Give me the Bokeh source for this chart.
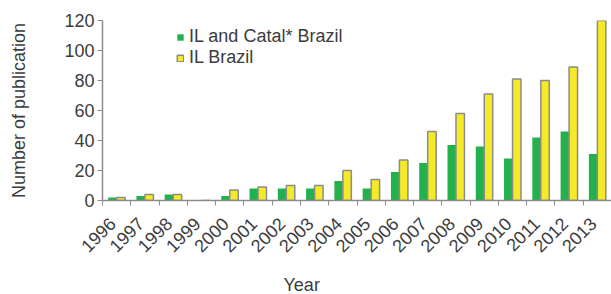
import math
from bokeh.plotting import figure
from bokeh.models import (ColumnDataSource, Range1d, LinearAxis, FixedTicker,
                          Legend, LegendItem, Title)
from bokeh.transform import dodge
from bokeh.embed import file_html
from bokeh.resources import INLINE

years = ["1996", "1997", "1998", "1999", "2000", "2001", "2002", "2003", "2004",
         "2005", "2006", "2007", "2008", "2009", "2010", "2011", "2012", "2013"]
il_catal = [2, 3, 4, 0, 3, 8, 8, 8, 13, 8, 19, 25, 37, 36, 28, 42, 46, 31]
il_brazil = [2, 4, 4, 0, 7, 9, 10, 10, 20, 14, 27, 46, 58, 71, 81, 80, 89, 120]
y_ticks = [0, 20, 40, 60, 80, 100, 120]

FONT = "Liberation Sans"
TXT = "#3c3c3c"
AX = "#8c8c8c"
GREEN = "#22b14c"
YELLOW = "#f5ea28"

n = len(years)
centers = [i + 0.5 for i in range(n)]
label_pos = [i + 0.35 for i in range(n)]
src = ColumnDataSource(dict(x=centers, green=il_catal, yellow=il_brazil))

p = figure(width=611, height=294, output_backend="svg", toolbar_location=None,
           x_range=Range1d(0, n), y_range=Range1d(0, 120),
           x_axis_type=None, y_axis_type=None,
           min_border_left=102, min_border_right=0, min_border_top=20,
           min_border_bottom=94)
p.outline_line_color = None
p.grid.visible = False

g = p.vbar(x=dodge("x", -0.15, range=p.x_range), top="green", width=0.3,
           source=src, fill_color=GREEN, line_color=None)
y = p.vbar(x=dodge("x", 0.15, range=p.x_range), top="yellow", width=0.3,
           source=src, fill_color=YELLOW, line_color=AX, line_width=1.5)

xaxis = LinearAxis(ticker=FixedTicker(ticks=label_pos,
                                      minor_ticks=list(range(n + 1))))
xaxis.major_label_overrides = {c: yr for c, yr in zip(label_pos, years)}
xaxis.major_tick_out = 0
xaxis.major_tick_in = 0
xaxis.minor_tick_out = 5
xaxis.minor_tick_in = 0
xaxis.minor_tick_line_color = AX
xaxis.axis_line_color = AX
xaxis.axis_line_width = 1.5
xaxis.major_label_orientation = math.pi / 4
xaxis.major_label_standoff = 15
xaxis.major_label_text_font = FONT
xaxis.major_label_text_font_size = "18px"
xaxis.major_label_text_color = TXT
# blank spacer label to push the "Year" title down
xaxis.axis_label = " "
xaxis.axis_label_text_font_size = "6px"
xaxis.axis_label_standoff = 2
p.add_layout(xaxis, "below")

yaxis = LinearAxis(ticker=FixedTicker(ticks=y_ticks))
yaxis.major_tick_out = 5
yaxis.major_tick_in = 0
yaxis.minor_tick_line_color = None
yaxis.major_tick_line_color = AX
yaxis.axis_line_color = AX
yaxis.axis_line_width = 1.5
yaxis.major_label_standoff = 3
yaxis.major_label_text_font = FONT
yaxis.major_label_text_font_size = "18px"
yaxis.major_label_text_color = TXT
yaxis.axis_label = "Number of publication"
yaxis.axis_label_text_font = FONT
yaxis.axis_label_text_font_size = "18px"
yaxis.axis_label_text_font_style = "normal"
yaxis.axis_label_text_color = TXT
yaxis.axis_label_standoff = 32
p.add_layout(yaxis, "left")

xtitle = Title(text="Year", align="left", offset=181, standoff=0,
               text_font=FONT, text_font_size="18px",
               text_font_style="normal", text_color=TXT)
p.add_layout(xtitle, "below")

legend = Legend(items=[LegendItem(label="IL and Catal* Brazil", renderers=[g]),
                       LegendItem(label="IL Brazil", renderers=[y])],
                location=(74, 132))
legend.border_line_color = None
legend.background_fill_alpha = 0
legend.padding = 0
legend.margin = 0
legend.spacing = 0
legend.glyph_width = 8
legend.glyph_height = 8
legend.label_height = 18
legend.label_standoff = 5
legend.label_text_font = FONT
legend.label_text_font_size = "18px"
legend.label_text_color = TXT
p.add_layout(legend)

open("out.html", "w").write(file_html(p, INLINE))
